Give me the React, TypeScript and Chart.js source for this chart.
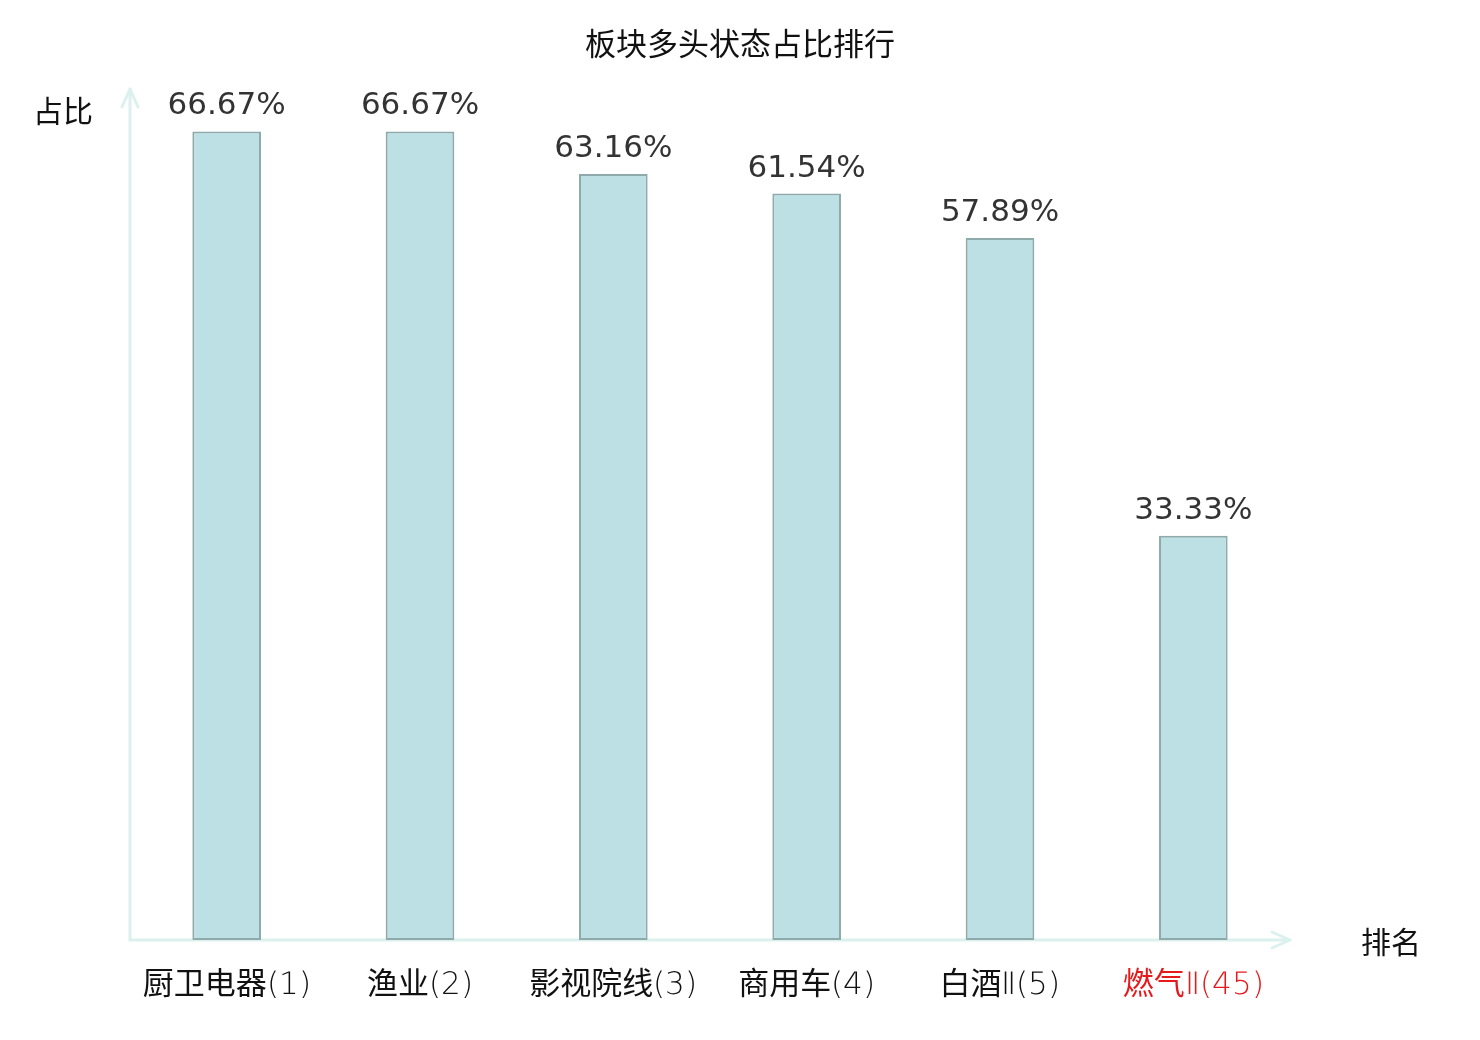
import React, { useRef, useEffect } from 'react';
import { Chart, registerables, Plugin } from 'chart.js';

Chart.register(...registerables);

const categories = ['厨卫电器(1)', '渔业(2)', '影视院线(3)', '商用车(4)', '白酒Ⅱ(5)', '燃气Ⅱ(45)'];
const ratios = [66.67, 66.67, 63.16, 61.54, 57.89, 33.33];
const highlightIndex = 5;
const chartTitle = '板块多头状态占比排行';
const yName = '占比';
const xName = '排名';

const NUM_FONT = '"DejaVu Sans", "Noto Sans CJK SC", sans-serif';
const CJK_FONT = '"Noto Sans CJK SC", "DejaVu Sans", sans-serif';
// thin latin glyphs + regular CJK glyphs for the category labels
const TICK_FONT = '"TickLatin", "Noto Sans CJK SC", sans-serif';
const AXIS_COLOR = '#dcf1ee';

const fontCss = `
@font-face {
  font-family: 'TickLatin';
  src: local('DejaVu Sans ExtraLight'), local('DejaVuSans-ExtraLight');
  unicode-range: U+0000-00FF, U+2160-216F;
}`;

// axes with arrow heads, title, axis names and value labels on top of bars
const decorPlugin: Plugin<'bar'> = {
    id: 'decor',
    beforeDatasetsDraw(chart) {
        const { ctx, chartArea } = chart;
        const { left, right, top, bottom } = chartArea;
        ctx.save();
        ctx.strokeStyle = AXIS_COLOR;
        ctx.lineWidth = 3;
        ctx.lineCap = 'round';
        ctx.lineJoin = 'round';
        // y axis
        ctx.beginPath();
        ctx.moveTo(left, bottom);
        ctx.lineTo(left, top - 2);
        ctx.stroke();
        ctx.beginPath();
        ctx.moveTo(left - 8, top + 16);
        ctx.lineTo(left, top - 2);
        ctx.lineTo(left + 8, top + 16);
        ctx.stroke();
        // x axis
        ctx.beginPath();
        ctx.moveTo(left, bottom);
        ctx.lineTo(right, bottom);
        ctx.stroke();
        ctx.beginPath();
        ctx.moveTo(right - 18, bottom - 8);
        ctx.lineTo(right, bottom);
        ctx.lineTo(right - 18, bottom + 8);
        ctx.stroke();
        ctx.restore();
    },
    afterDatasetsDraw(chart) {
        const { ctx, chartArea, width } = chart;
        const meta = chart.getDatasetMeta(0);
        ctx.save();
        ctx.font = `31px ${NUM_FONT}`;
        ctx.fillStyle = '#333333';
        ctx.textAlign = 'center';
        ctx.textBaseline = 'alphabetic';
        meta.data.forEach((bar, i) => {
            const { x, y } = bar.getProps(['x', 'y'], true);
            ctx.fillText(`${ratios[i].toFixed(2)}%`, x, y - 17);
        });
        ctx.fillStyle = '#111111';
        ctx.textBaseline = 'middle';
        ctx.font = `31px ${CJK_FONT}`;
        ctx.fillText(chartTitle, width / 2, 43);
        ctx.font = `30px ${CJK_FONT}`;
        ctx.fillText(yName, 63, 111);
        ctx.fillText(xName, chartArea.right + 101, chartArea.bottom + 2);
        ctx.restore();
    },
};

const App = () => {
    const chartRef = useRef<HTMLCanvasElement>(null);
    const chartInstanceRef = useRef<Chart | null>(null);

    useEffect(() => {
        document.body.style.margin = '0';
        let cancelled = false;
        const style = document.createElement('style');
        style.textContent = fontCss;
        document.head.appendChild(style);

        const build = () => {
            if (cancelled || !chartRef.current || chartInstanceRef.current) return;
            const context = chartRef.current.getContext('2d');
            if (!context) return;
            chartInstanceRef.current = new Chart(context, {
                type: 'bar',
                data: {
                    labels: categories,
                    datasets: [
                        {
                            label: yName,
                            data: ratios,
                            backgroundColor: '#bce0e3',
                            borderColor: '#8eaaab',
                            borderWidth: 2,
                            borderSkipped: false,
                            categoryPercentage: 1,
                            barPercentage: 0.355,
                        },
                    ],
                },
                options: {
                    responsive: false,
                    animation: false,
                    layout: {
                        padding: { left: 130, right: 190, top: 91, bottom: 0 },
                    },
                    scales: {
                        y: {
                            display: false,
                            min: 0,
                            max: 70,
                        },
                        x: {
                            grid: { display: false },
                            border: { display: false },
                            ticks: {
                                padding: 19,
                                font: { family: TICK_FONT, size: 31 },
                                color: (c) => (c.index === highlightIndex ? '#e41a1c' : '#111111'),
                            },
                            afterFit(scale) {
                                scale.height = 100;
                            },
                        },
                    },
                    plugins: {
                        legend: { display: false },
                        tooltip: { enabled: false },
                        title: { display: false },
                    },
                },
                plugins: [decorPlugin],
            });
        };

        document.fonts
            .load(`31px ${TICK_FONT}`, categories.join(''))
            .catch(() => undefined)
            .then(build);

        return () => {
            cancelled = true;
            if (chartInstanceRef.current) {
                chartInstanceRef.current.destroy();
                chartInstanceRef.current = null;
            }
            style.remove();
        };
    }, []);

    return (
        <div style={{ width: 1480, height: 1040, background: '#ffffff' }}>
            <canvas ref={chartRef} width={1480} height={1040} />
        </div>
    );
};

export default App;
